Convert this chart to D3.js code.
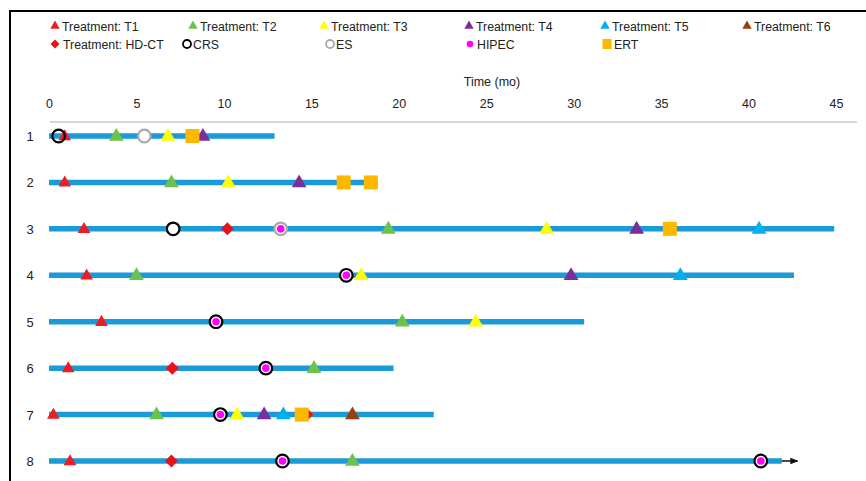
<!DOCTYPE html>
<html><head><meta charset="utf-8">
<script src="https://cdn.jsdelivr.net/npm/d3@7"></script>
<style>body{margin:0;background:#fff}svg{display:block}text{font-family:"Liberation Sans",Arial,sans-serif;fill:#222}</style>
</head><body><svg id="c" width="866" height="481"></svg>
<script>
// ---- data ----
const patients = ["1","2","3","4","5","6","7","8"];
const durations = [12.9, 18.8, 44.9, 42.6, 30.6, 19.7, 22.0, 41.9];
const ongoing = [[8, 42.8]];
const xTicks = [0,5,10,15,20,25,30,35,40,45];
// events: [patient, month]
const evT1 = [[1,0.9],[2,0.9],[3,2.0],[4,2.15],[5,3.0],[6,1.1],[7,0.25],[8,1.2]];
const evT2 = [[1,3.85],[2,7.0],[3,19.4],[4,5.0],[5,20.2],[6,15.15],[7,6.15],[8,17.35]];
const evT3 = [[1,6.8],[2,10.25],[3,28.45],[4,17.85],[5,24.4],[7,10.75]];
const evT4 = [[1,8.8],[2,14.3],[3,33.6],[4,29.85],[7,12.3]];
const evT5 = [[3,40.6],[4,36.1],[7,13.4]];
const evT6 = [[7,17.35]];
const evHDCT = [[3,10.2],[6,7.05],[7,14.75],[8,7.0]];
const evERT = [[1,8.2],[2,16.85],[2,18.4],[3,35.5],[7,14.45]];
const evES = [[1,5.45],[3,13.25]];
const evCRS = [[1,0.55],[3,7.1],[4,17.0],[5,9.55],[6,12.4],[7,9.8],[8,13.35],[8,40.7]];
const evHIPEC = [[3,13.25],[4,17.0],[5,9.55],[6,12.4],[7,9.8],[8,13.35],[8,40.7]];
const legendRow1 = ["Treatment: T1","Treatment: T2","Treatment: T3","Treatment: T4","Treatment: T5","Treatment: T6"];
const legendRow2 = ["Treatment: HD-CT","CRS","ES","HIPEC","ERT"];

// ---- styles ----
const colT = ["#ee1c25","#6cc24a","#ffff00","#7b2f9e","#00b0f0","#9c3f0f"];
const colBar = "#1b9ad8";

const svg = d3.select("#c");
// frame
svg.append("line").attr("x1",10).attr("x2",866).attr("y1",11).attr("y2",11).attr("stroke","#000").attr("stroke-width",2);
svg.append("line").attr("x1",10).attr("x2",10).attr("y1",10).attr("y2",481).attr("stroke","#000").attr("stroke-width",2);

const x = d3.scaleLinear().domain([0,45]).range([49,836]);
const y = d3.scalePoint().domain(patients).range([136,461]);

// axis
svg.append("text").attr("x",492).attr("y",86).attr("text-anchor","middle").attr("font-size",12.5).text("Time (mo)");
const ax = svg.append("g").attr("transform","translate(0,108)")
  .call(d3.axisTop(x).tickValues(xTicks).tickSize(0).tickPadding(0).tickFormat(d3.format("d")));
ax.select(".domain").remove();
ax.selectAll("text").attr("font-size",12.5).attr("fill","#222").attr("font-family","Liberation Sans, Arial, sans-serif");
svg.append("line").attr("x1",50).attr("x2",857).attr("y1",122).attr("y2",122).attr("stroke","#b0b0b0").attr("stroke-width",1.2);

// row labels
svg.selectAll(".rl").data(patients).join("text").attr("x",30).attr("y",d=>y(d)+5)
  .attr("text-anchor","middle").attr("font-size",13).text(d=>d);

// bars
svg.selectAll(".bar").data(patients).join("line")
  .attr("x1",x(0)).attr("x2",(d,i)=>x(durations[i])).attr("y1",d=>y(d)).attr("y2",d=>y(d))
  .attr("stroke",colBar).attr("stroke-width",5.5);

// ongoing arrows
svg.append("defs").append("marker").attr("id","ah").attr("viewBox","0 0 10 10").attr("refX",9).attr("refY",5)
  .attr("markerWidth",8).attr("markerHeight",8).attr("markerUnits","userSpaceOnUse").attr("orient","auto")
  .append("path").attr("d","M0,1L10,5L0,9Z").attr("fill","#111");
ongoing.forEach(([p,t])=>{
  svg.append("line").attr("x1",x(durations[p-1])).attr("x2",x(t)).attr("y1",y(String(p))).attr("y2",y(String(p)))
    .attr("stroke","#111").attr("stroke-width",1.5).attr("marker-end","url(#ah)");
});

function drawTri(data,color,sz){
  svg.append("g").selectAll("path").data(data).join("path")
    .attr("d",d3.symbol().type(d3.symbolTriangle).size(sz||95))
    .attr("transform",d=>`translate(${x(d[1])},${y(String(d[0]))+0.5})`).attr("fill",color);
}
drawTri(evT1,colT[0],70);
drawTri(evT2,colT[1]);
drawTri(evT3,colT[2]);
drawTri(evT4,colT[3]);
drawTri(evT5,colT[4]);
drawTri(evT6,colT[5]);
svg.append("g").selectAll("rect").data(evHDCT).join("rect")
  .attr("x",-4.6).attr("y",-4.6).attr("width",9.2).attr("height",9.2)
  .attr("transform",d=>`translate(${x(d[1])},${y(String(d[0]))}) rotate(45)`).attr("fill","#e8121b");
svg.append("g").selectAll("rect").data(evERT).join("rect")
  .attr("x",d=>x(d[1])-7).attr("y",d=>y(String(d[0]))-7).attr("width",14).attr("height",14).attr("fill","#ffb800");
svg.append("g").selectAll("circle").data(evES).join("circle")
  .attr("cx",d=>x(d[1])).attr("cy",d=>y(String(d[0]))).attr("r",6.3).attr("fill","#fff").attr("stroke","#a9a9a9").attr("stroke-width",2.2);
svg.append("g").selectAll("circle").data(evCRS).join("circle")
  .attr("cx",d=>x(d[1])).attr("cy",d=>y(String(d[0]))).attr("r",6.3).attr("fill","#fff").attr("stroke","#000").attr("stroke-width",2.2);
svg.append("g").selectAll("circle").data(evHIPEC).join("circle")
  .attr("cx",d=>x(d[1])).attr("cy",d=>y(String(d[0]))).attr("r",3.8).attr("fill","#ff00ff");
svg.selectAll("circle").filter(d=>d && d[0]===1 && d[1]===0.55).attr("fill","none");

// legend
const lx1 = [55,193,324,469,605,747];
legendRow1.forEach((t,i)=>{
  svg.append("path").attr("d",d3.symbol().type(d3.symbolTriangle).size(38)).attr("transform",`translate(${lx1[i]},${26})`).attr("fill",colT[i]);
  svg.append("text").attr("x",lx1[i]+7).attr("y",30.5).attr("font-size",12.3).text(t);
});
const lx2 = [55,187,330,470,607];
const ly2 = 44;
svg.append("rect").attr("x",-3.2).attr("y",-3.2).attr("width",6.4).attr("height",6.4)
  .attr("transform",`translate(${lx2[0]},${ly2}) rotate(45)`).attr("fill","#e8121b");
svg.append("circle").attr("cx",lx2[1]).attr("cy",ly2).attr("r",4).attr("fill","none").attr("stroke","#000").attr("stroke-width",1.8);
svg.append("circle").attr("cx",lx2[2]).attr("cy",ly2).attr("r",4).attr("fill","none").attr("stroke","#aaa").attr("stroke-width",1.8);
svg.append("circle").attr("cx",lx2[3]).attr("cy",ly2).attr("r",3.3).attr("fill","#ff00ff");
svg.append("rect").attr("x",lx2[4]-4.5).attr("y",ly2-5).attr("width",9).attr("height",10).attr("fill","#ffb800");
const lt2 = [63,193,336,477,614];
legendRow2.forEach((t,i)=>{
  svg.append("text").attr("x",lt2[i]).attr("y",ly2+4.5).attr("font-size",12.3).text(t);
});
</script></body></html>
